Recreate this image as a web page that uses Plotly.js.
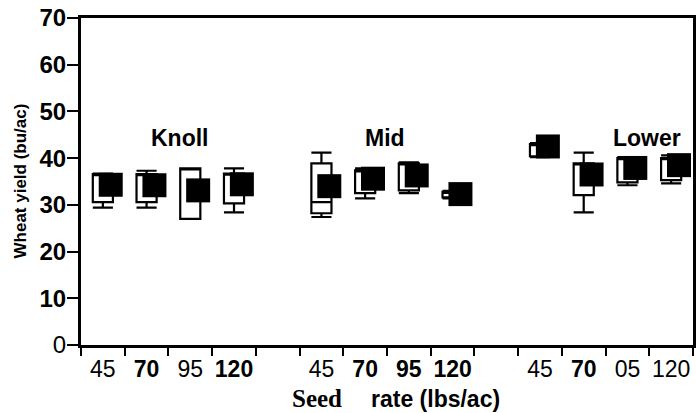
<!DOCTYPE html>
<html><head><meta charset="utf-8">
<script src="https://cdn.plot.ly/plotly-3.0.1.min.js"></script>
<style>html,body{margin:0;padding:0;background:#fff}</style>
</head><body>
<div id="chart" style="width:696px;height:413px"></div>
<script>
// ---- data ----
const groups = ['Knoll', 'Mid', 'Lower'];
const seedRates = ['45', '70', '95', '120'];
const tickLabels = ['45', '<b>70</b>', '95', '<b>120</b>',
                    '45', '<b>70</b>', '<b>95</b>', '<b>120</b>',
                    '45', '<b>70</b>', '05', '120'];
const lowerFence = [29.4, 29.4, 27.0, 28.4,  27.4, 31.4, 32.5, 31.4,  40.2, 28.4, 34.2, 34.6];
const q1         = [30.6, 30.6, 27.0, 30.3,  28.2, 32.5, 33.1, 31.6,  40.4, 32.1, 34.8, 35.3];
const median     = [36.6, 36.6, 37.8, 36.7,  30.6, 37.4, 38.9, 32.8,  43.0, 38.9, 40.0, 40.0];
const q3         = [36.6, 36.6, 37.8, 36.7,  38.9, 37.4, 38.9, 32.8,  43.0, 38.9, 40.0, 40.0];
const upperFence = [36.7, 37.3, 37.8, 37.8,  41.2, 37.8, 39.1, 33.0,  43.2, 41.2, 40.2, 40.6];
const means      = [34.3, 34.2, 33.1, 34.4,  34.0, 35.6, 36.3, 32.3,  42.5, 36.5, 37.9, 38.5];
const yTicks = [0, 10, 20, 30, 40, 50, 60, 70];

// category positions: 4 rates per site, one empty slot between sites
const pos = [];
groups.forEach((g, gi) => seedRates.forEach((r, ri) => pos.push(gi * 5 + ri + 0.5)));
const meanOffset = 0.18;
const meanX = pos.map(p => p + meanOffset);
const minorVals = [];
for (let v = 0; v <= 14; v++) minorVals.push(v);

const boxTrace = {
  type: 'box',
  x: pos,
  q1: q1, median: median, q3: q3,
  lowerfence: lowerFence, upperfence: upperFence,
  width: 0.46,
  whiskerwidth: 1,
  fillcolor: 'white',
  line: {color: 'black', width: 2.2},
  hoverinfo: 'skip',
  showlegend: false
};
const meanTrace = {
  type: 'scatter', mode: 'markers',
  x: meanX, y: means,
  marker: {symbol: 'square', size: 24, color: 'black', line: {width: 0}},
  cliponaxis: true,
  showlegend: false
};

const font = 'Liberation Sans, Arial, sans-serif';
const serif = 'Liberation Serif, Times New Roman, serif';
const layout = {
  width: 696, height: 413,
  margin: {l: 81, r: 3, t: 18, b: 68},
  paper_bgcolor: 'white', plot_bgcolor: 'white',
  showlegend: false,
  xaxis: {
    range: [0, 14],
    showline: true, linewidth: 3, linecolor: 'black', mirror: true,
    showgrid: false, zeroline: false,
    tickmode: 'array', tickvals: pos, ticktext: tickLabels,
    ticks: 'outside', ticklen: 1, tickcolor: 'rgba(0,0,0,0)',
    tickfont: {family: font, size: 23, color: 'black'},
    minor: {tickvals: minorVals, ticks: 'outside', ticklen: 8, tickwidth: 2, tickcolor: 'black', showgrid: false}
  },
  yaxis: {
    range: [0, 70],
    showline: true, linewidth: 3, linecolor: 'black', mirror: true,
    showgrid: false, zeroline: false,
    tickmode: 'array', tickvals: yTicks,
    ticktext: yTicks.map(v => v === 0 ? '0' : '<b>' + v + '</b>'),
    ticks: 'outside', ticklen: 11, tickwidth: 2, tickcolor: 'black',
    ticklabelstandoff: -4,
    tickfont: {family: font, size: 24, color: 'black'}
  },
  annotations: [
    {text: '<b>Knoll</b>', x: 2.26, y: 44.4, xref: 'x', yref: 'y', showarrow: false, font: {family: font, size: 23, color: 'black'}},
    {text: '<b>Mid</b>', x: 6.95, y: 44.4, xref: 'x', yref: 'y', showarrow: false, font: {family: font, size: 23, color: 'black'}},
    {text: '<b>Lower</b>', x: 12.95, y: 44.4, xref: 'x', yref: 'y', showarrow: false, font: {family: font, size: 23, color: 'black'}},
    {text: '<b>Wheat yield (bu/ac)</b>', xref: 'paper', yref: 'paper', x: 0, y: 0.5, xshift: -61,
     xanchor: 'center', yanchor: 'middle',
     textangle: -90, showarrow: false, font: {family: font, size: 17, color: 'black'}},
    {text: '<b>Seed</b>', xref: 'x', yref: 'paper', x: 5.41, y: -0.165, yanchor: 'middle', showarrow: false,
     font: {family: serif, size: 25, color: 'black'}},
    {text: '<b>rate (lbs/ac)</b>', xref: 'x', yref: 'paper', x: 8.12, y: -0.165, yanchor: 'middle', showarrow: false,
     font: {family: font, size: 23, color: 'black'}}
  ]
};

Plotly.newPlot('chart', [boxTrace, meanTrace], layout, {displayModeBar: false, staticPlot: true});
</script>
</body></html>
